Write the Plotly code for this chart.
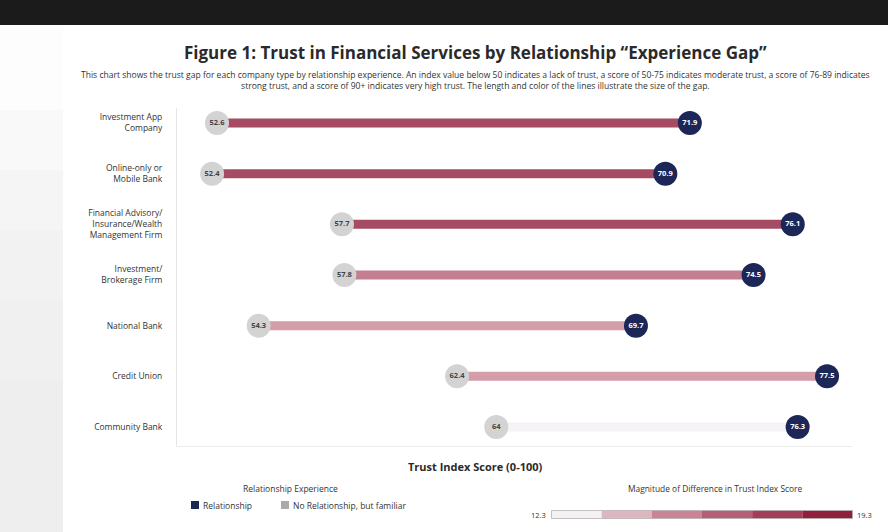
import plotly.graph_objects as go

# ---------------- data ----------------
categories = [
    "Investment App<br>Company",
    "Online-only or<br>Mobile Bank",
    "Financial Advisory/<br>Insurance/Wealth<br>Management Firm",
    "Investment/<br>Brokerage Firm",
    "National Bank",
    "Credit Union",
    "Community Bank",
]
no_relationship = [52.6, 52.4, 57.7, 57.8, 54.3, 62.4, 64.0]
relationship = [71.9, 70.9, 76.1, 74.5, 69.7, 77.5, 76.3]
bin_colors = ["#f3f1f3", "#dcb6c0", "#c98596", "#b55f76", "#a33d59", "#8f1f3d"]

W, H = 888, 532
FONT = "Open Sans"
NAVY = "#1c2657"
GRAY_DOT = "#d3d3d3"
TXT = "#333333"


def px(x):
    return x / W


def py(y):
    return 1 - y / H


gaps = [r - n for r, n in zip(relationship, no_relationship)]
gmin, gmax = min(gaps), max(gaps)
nb = len(bin_colors)


def gap_color(g):
    idx = int((g - gmin) / (gmax - gmin) * nb)
    idx = max(0, min(nb - 1, idx))
    return bin_colors[idx]


fig = go.Figure()

# gap lines
for cat, n, r, g in zip(categories, no_relationship, relationship, gaps):
    fig.add_trace(go.Scatter(
        x=[n, r], y=[cat, cat], mode="lines",
        line=dict(color=gap_color(g), width=9),
        opacity=0.8, hoverinfo="skip", showlegend=False,
    ))

fmt = lambda v: f"{v:g}"

fig.add_trace(go.Scatter(
    x=no_relationship, y=categories, mode="markers+text",
    marker=dict(size=24, color=GRAY_DOT, line=dict(width=0)),
    text=[fmt(v) for v in no_relationship], textposition="middle center",
    textfont=dict(family=FONT, size=7.5, color="#444444", weight="bold"),
    hoverinfo="skip", showlegend=False,
))
fig.add_trace(go.Scatter(
    x=relationship, y=categories, mode="markers+text",
    marker=dict(size=24, color=NAVY, line=dict(width=0)),
    text=[fmt(v) for v in relationship], textposition="middle center",
    textfont=dict(family=FONT, size=7.5, color="white", weight="bold"),
    hoverinfo="skip", showlegend=False,
))

shapes = []
annotations = []

# top dark band
shapes.append(dict(type="rect", xref="paper", yref="paper", x0=0, x1=1,
                   y0=py(25), y1=1, fillcolor="#1b1b1b", line=dict(width=0), layer="below"))
# left page texture approximation
grays = ["#fdfdfd", "#f9f9f9", "#f5f5f5", "#f2f2f2", "#f0f0f0", "#eeeeee"]
ys = [25, 110, 170, 230, 300, 380, 532]
for i, c in enumerate(grays):
    shapes.append(dict(type="rect", xref="paper", yref="paper", x0=0, x1=px(63),
                       y0=py(ys[i + 1]), y1=py(ys[i]), fillcolor=c,
                       line=dict(width=0), layer="below"))

# title + subtitle
annotations.append(dict(
    xref="paper", yref="paper", x=px(476), y=py(52), xanchor="center", yanchor="middle",
    text="<b>Figure 1: Trust in Financial Services by Relationship “Experience Gap”</b>",
    showarrow=False, font=dict(family=FONT, size=17, color="#2a2a2a"),
))
annotations.append(dict(
    xref="paper", yref="paper", x=px(476), y=py(81), xanchor="center", yanchor="middle",
    text=("This chart shows the trust gap for each company type by relationship experience. "
          "An index value below 50 indicates a lack of trust, a score of 50-75 indicates moderate trust, "
          "a score of 76-89 indicates<br>strong trust, and a score of 90+ indicates very high trust. "
          "The length and color of the lines illustrate the size of the gap."),
    showarrow=False, align="center", font=dict(family=FONT, size=8.55, color="#333333"),
))

# x-axis title
annotations.append(dict(
    xref="paper", yref="paper", x=px(476), y=py(466), xanchor="center", yanchor="middle",
    text="<b>Trust Index Score (0-100)</b>", showarrow=False,
    font=dict(family=FONT, size=11, color="#2a2a2a"),
))

# legend (relationship experience)
annotations.append(dict(
    xref="paper", yref="paper", x=px(290), y=py(488), xanchor="center", yanchor="middle",
    text="Relationship Experience", showarrow=False,
    font=dict(family=FONT, size=8.5, color=TXT),
))
for x0, col, label in [(191, NAVY, "Relationship"), (281, "#aaaaaa", "No Relationship, but familiar")]:
    shapes.append(dict(type="rect", xref="paper", yref="paper", x0=px(x0), x1=px(x0 + 8),
                       y0=py(509), y1=py(501), fillcolor=col, line=dict(width=0)))
    annotations.append(dict(
        xref="paper", yref="paper", x=px(x0 + 10), y=py(505), xanchor="left", yanchor="middle",
        text=label, showarrow=False, font=dict(family=FONT, size=8.5, color=TXT),
    ))

# colour scale legend
annotations.append(dict(
    xref="paper", yref="paper", x=px(715), y=py(488), xanchor="center", yanchor="middle",
    text="Magnitude of Difference in Trust Index Score", showarrow=False,
    font=dict(family=FONT, size=8.4, color=TXT),
))
cb_x0, cb_x1 = 551.5, 852.5
bw = (cb_x1 - cb_x0) / nb
for i, c in enumerate(bin_colors):
    shapes.append(dict(type="rect", xref="paper", yref="paper",
                       x0=px(cb_x0 + i * bw), x1=px(cb_x0 + (i + 1) * bw),
                       y0=py(518.5), y1=py(510.5), fillcolor=c,
                       line=dict(width=0)))
shapes.append(dict(type="rect", xref="paper", yref="paper", x0=px(cb_x0), x1=px(cb_x1),
                   y0=py(518.5), y1=py(510.5), line=dict(width=0.8, color="#b8b0b0")))
annotations.append(dict(
    xref="paper", yref="paper", x=px(548), y=py(514.5), xanchor="right", yanchor="middle",
    text=fmt(round(gmin, 1)), showarrow=False, font=dict(family=FONT, size=7.5, color=TXT),
))
annotations.append(dict(
    xref="paper", yref="paper", x=px(855), y=py(514.5), xanchor="left", yanchor="middle",
    text=fmt(round(gmax, 1)), showarrow=False, font=dict(family=FONT, size=7.5, color=TXT),
))

# plot area: x 177..852, y 108..446
x_dom = [px(177), px(852)]
y_dom = [py(446), py(108)]
v0 = 52.6 - (217 - 177) / 24.5
v1 = 52.6 + (852 - 217) / 24.5

fig.update_layout(
    width=W, height=H,
    margin=dict(l=0, r=0, t=0, b=0),
    paper_bgcolor="white", plot_bgcolor="white",
    font=dict(family=FONT, color=TXT),
    xaxis=dict(domain=x_dom, range=[v0, v1], showgrid=False, zeroline=False,
               showticklabels=False, ticks="", showline=True, linecolor="#ececec",
               linewidth=1, fixedrange=True),
    yaxis=dict(domain=y_dom, type="category", categoryorder="array",
               categoryarray=categories, range=[6.375, -0.296], showgrid=False,
               zeroline=False, showline=True, linecolor="#e6e6e6", linewidth=1,
               ticks="", ticklabelstandoff=12,
               tickfont=dict(family=FONT, size=8.5, color=TXT), fixedrange=True),
    shapes=shapes, annotations=annotations,
    showlegend=False,
)

fig.write_html(
    "out.html",
    config={"displayModeBar": False},
    post_script="document.body.style.margin='0';document.body.style.overflow='hidden';",
)
